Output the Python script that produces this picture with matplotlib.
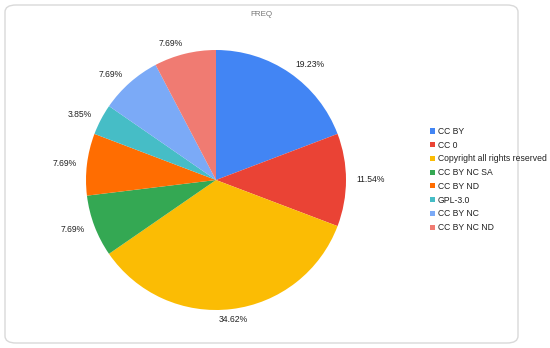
import matplotlib
matplotlib.use("Agg")
import matplotlib.pyplot as plt
from matplotlib.patches import FancyBboxPatch
import numpy as np

plt.rcParams['font.family'] = ['Liberation Sans', 'DejaVu Sans']

categories = ["CC BY", "CC 0", "Copyright all rights reserved", "CC BY NC SA",
              "CC BY ND", "GPL-3.0", "CC BY NC", "CC BY NC ND"]
values = [19.23, 11.54, 34.62, 7.69, 7.69, 3.85, 7.69, 7.69]
colors = ["#4285F4", "#EA4335", "#FBBC04", "#34A853",
          "#FF6D01", "#46BDC6", "#7BAAF7", "#F07B72"]
title = "FREQ"

W, H = 550, 348
fig = plt.figure(figsize=(W / 100, H / 100), dpi=100)

# rounded border
border = FancyBboxPatch((5 / W, 5 / H), (518 - 5) / W, (343 - 5) / H,
                        boxstyle="round,pad=0,rounding_size=0.02",
                        transform=fig.transFigure, facecolor="white",
                        edgecolor="#d9d9d9", linewidth=1.0, zorder=-10)
fig.patches.append(border)

cx, cy, r = 216, 348 - 180, 130
ax = fig.add_axes([(cx - r) / W, (cy - r) / H, 2 * r / W, 2 * r / H])
ax.set_zorder(5)
wedges, _ = ax.pie(values, colors=colors, startangle=90, counterclock=False,
                   radius=1.0, wedgeprops=dict(linewidth=0))
ax.set_xlim(-1, 1)
ax.set_ylim(-1, 1)
ax.set_aspect('equal')
ax.axis('off')

for w, v in zip(wedges, values):
    ang = np.deg2rad((w.theta1 + w.theta2) / 2)
    x, y = np.cos(ang), np.sin(ang)
    d = 1.08
    if abs(x) < 0.15:
        ha = 'center'
    elif x > 0:
        ha = 'left'
    else:
        ha = 'right'
    ax.text(d * x, d * y, f"{v:.2f}%", ha=ha, va='center', fontsize=6.2,
            color="#222222", clip_on=False)

fig.text(261 / W, 1 - 15 / H, title, ha='center', va='center', fontsize=5.8,
         color="#757575")

leg = fig.legend(handles=wedges, labels=categories, loc='upper left',
                 bbox_to_anchor=(430 / W, 1 - 127 / H), frameon=False,
                 fontsize=6.2, handlelength=0.55, handleheight=0.55,
                 handletextpad=0.35, labelspacing=0.55, borderaxespad=0,
                 borderpad=0)
leg.set_zorder(6)
for t in leg.get_texts():
    t.set_color("#222222")

fig.savefig("out.png", dpi=100)
